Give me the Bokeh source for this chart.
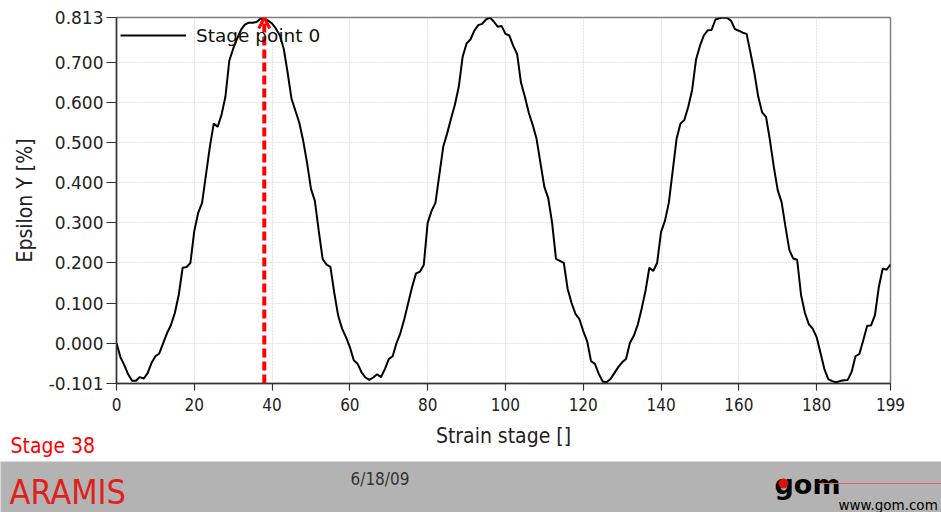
from bokeh.plotting import figure
from bokeh.models import (FixedTicker, PrintfTickFormatter, Range1d, Legend, LegendItem,
                          Arrow, OpenHead, Label, Title)
from bokeh.layouts import column
from bokeh.embed import file_html
from bokeh.resources import INLINE

# ---------------- data ----------------
stages = list(range(200))
epsilon_y = [
    0.000, -0.035, -0.055, -0.078, -0.094, -0.094, -0.085, -0.089, -0.075, -0.050,
    -0.033, -0.026, 0.000, 0.025, 0.045, 0.075, 0.120, 0.188, 0.190, 0.200,
    0.280, 0.325, 0.350, 0.420, 0.490, 0.548, 0.540, 0.570, 0.615, 0.705,
    0.735, 0.760, 0.782, 0.795, 0.800, 0.800, 0.802, 0.810, 0.810, 0.805,
    0.798, 0.785, 0.768, 0.735, 0.675, 0.610, 0.580, 0.550, 0.505, 0.450,
    0.385, 0.355, 0.280, 0.210, 0.196, 0.190, 0.125, 0.068, 0.036, 0.015,
    -0.010, -0.043, -0.052, -0.073, -0.086, -0.092, -0.086, -0.078, -0.085, -0.065,
    -0.040, -0.033, 0.000, 0.025, 0.060, 0.100, 0.140, 0.174, 0.178, 0.195,
    0.300, 0.330, 0.350, 0.420, 0.490, 0.523, 0.560, 0.595, 0.640, 0.715,
    0.748, 0.758, 0.780, 0.794, 0.797, 0.808, 0.813, 0.803, 0.790, 0.792,
    0.772, 0.768, 0.742, 0.722, 0.650, 0.615, 0.575, 0.545, 0.510, 0.450,
    0.390, 0.362, 0.300, 0.210, 0.205, 0.200, 0.135, 0.100, 0.073, 0.060,
    0.030, 0.005, -0.045, -0.052, -0.077, -0.096, -0.098, -0.090, -0.075, -0.060,
    -0.048, -0.040, 0.000, 0.018, 0.045, 0.085, 0.130, 0.188, 0.180, 0.200,
    0.277, 0.305, 0.350, 0.430, 0.510, 0.548, 0.557, 0.590, 0.632, 0.708,
    0.742, 0.768, 0.781, 0.782, 0.808, 0.811, 0.813, 0.812, 0.805, 0.784,
    0.780, 0.775, 0.772, 0.725, 0.675, 0.615, 0.576, 0.565, 0.507, 0.440,
    0.382, 0.352, 0.290, 0.232, 0.211, 0.208, 0.120, 0.075, 0.047, 0.036,
    0.015, -0.025, -0.065, -0.090, -0.095, -0.098, -0.095, -0.093, -0.092, -0.072,
    -0.033, -0.027, 0.007, 0.043, 0.044, 0.070, 0.140, 0.186, 0.183, 0.196,
]
x_ticks = [0, 20, 40, 60, 80, 100, 120, 140, 160, 180, 199]
y_ticks = [-0.101, 0.000, 0.100, 0.200, 0.300, 0.400, 0.500, 0.600, 0.700, 0.813]
current_stage = 38
series_label = "Stage point 0"
x_label = "Strain stage []"
y_label = "Epsilon Y [%]"
stage_text = "Stage 38"
footer_brand = "ARAMIS"
footer_date = "6/18/09"
logo_text = "gom"
logo_url = "www.gom.com"

COND = "DejaVu Sans Condensed"
SANS = "DejaVu Sans"

# ---------------- main chart ----------------
p = figure(width=941, height=461, output_backend="svg", toolbar_location=None,
           x_range=Range1d(x_ticks[0], x_ticks[-1]),
           y_range=Range1d(y_ticks[0], y_ticks[-1]),
           min_border_left=116, min_border_right=51, min_border_top=17,
           min_border_bottom=78)
p.frame_align = False
p.background_fill_color = "white"
p.border_fill_color = "white"
p.outline_line_color = "#7f7f7f"
p.outline_line_width = 1.5

r = p.line(stages, epsilon_y, line_color="black", line_width=2)

p.xaxis.ticker = FixedTicker(ticks=x_ticks)
p.xaxis.formatter = PrintfTickFormatter(format="%d")
p.yaxis.ticker = FixedTicker(ticks=y_ticks)
p.yaxis.formatter = PrintfTickFormatter(format="%.3f")
p.xaxis.axis_label = x_label
p.yaxis.axis_label = y_label

for ax in (p.xaxis, p.yaxis):
    ax.axis_line_color = "#333333"
    ax.axis_line_width = 1.5
    ax.major_tick_line_color = "#333333"
    ax.major_tick_line_width = 1.2
    ax.minor_tick_line_color = None
    ax.major_tick_in = 0
    ax.axis_label_text_font_style = "normal"
    ax.axis_label_text_color = "#222222"
    ax.major_label_text_color = "#222222"

p.xaxis.major_tick_out = 7
p.yaxis.major_tick_out = 10
p.xaxis.major_label_standoff = 7
p.yaxis.major_label_standoff = 3
p.xaxis.major_label_text_font = COND
p.xaxis.major_label_text_font_size = "17px"
p.yaxis.major_label_text_font = SANS
p.yaxis.major_label_text_font_size = "17px"
p.xaxis.axis_label_text_font = COND
p.yaxis.axis_label_text_font = COND
p.xaxis.axis_label_text_font_size = "21px"
p.yaxis.axis_label_text_font_size = "21px"
p.xaxis.axis_label_standoff = 10
p.yaxis.axis_label_standoff = 9

p.xgrid.ticker = FixedTicker(ticks=x_ticks)
p.ygrid.ticker = FixedTicker(ticks=y_ticks)
p.grid.grid_line_color = "#e2e2e2"
p.grid.grid_line_dash = "2 1"
p.grid.grid_line_width = 1

legend = Legend(items=[LegendItem(label=series_label, renderers=[r])],
                location="top_left", margin=4, padding=1, spacing=0,
                glyph_width=66, glyph_height=28, label_height=28,
                label_standoff=10, background_fill_alpha=0,
                border_line_color=None, label_text_font=SANS,
                label_text_font_size="18.5px", label_text_color="#111111")
p.add_layout(legend)

p.add_layout(Arrow(end=OpenHead(line_color="red", line_width=3, size=11),
                   x_start=current_stage, y_start=y_ticks[0],
                   x_end=current_stage, y_end=y_ticks[-1],
                   line_color="red", line_width=4, line_dash="9 4"))

p.add_layout(Title(text=stage_text, align="left", offset=-106, standoff=-34,
                   vertical_align="top",
                   text_color="red", text_font=COND, text_font_size="21px",
                   text_font_style="normal"), "below")

# ---------------- footer band ----------------
f = figure(width=941, height=51, output_backend="svg", toolbar_location=None,
           x_range=Range1d(0, 941), y_range=Range1d(0, 51),
           x_axis_type=None, y_axis_type=None, min_border=0)
f.title = None
f.frame_align = False
f.background_fill_color = "#b3b3b3"
f.border_fill_color = "#b3b3b3"
f.outline_line_color = None
f.grid.visible = False

f.add_layout(Label(x=9, y=21, text=footer_brand, text_color="#e0201a",
                   text_font=COND, text_font_size="34px", text_baseline="middle"))
f.add_layout(Label(x=350, y=34, text=footer_date, text_color="#333333",
                   text_font=COND, text_font_size="17px", text_baseline="middle"))
f.add_layout(Label(x=774, y=28, text=logo_text, text_color="black",
                   text_font=SANS, text_font_size="27px", text_font_style="bold",
                   text_baseline="middle"))
f.line([818, 941], [29, 29], line_color="#e06060", line_width=1, level="overlay")
f.scatter([783], [29], size=9, color="#e01010", level="overlay")
f.add_layout(Label(x=838, y=8, text=logo_url, text_color="black",
                   text_font=SANS, text_font_size="13.5px", text_baseline="middle"))

layout = column(p, f, spacing=0)
open("out.html", "w").write(file_html(layout, INLINE))
